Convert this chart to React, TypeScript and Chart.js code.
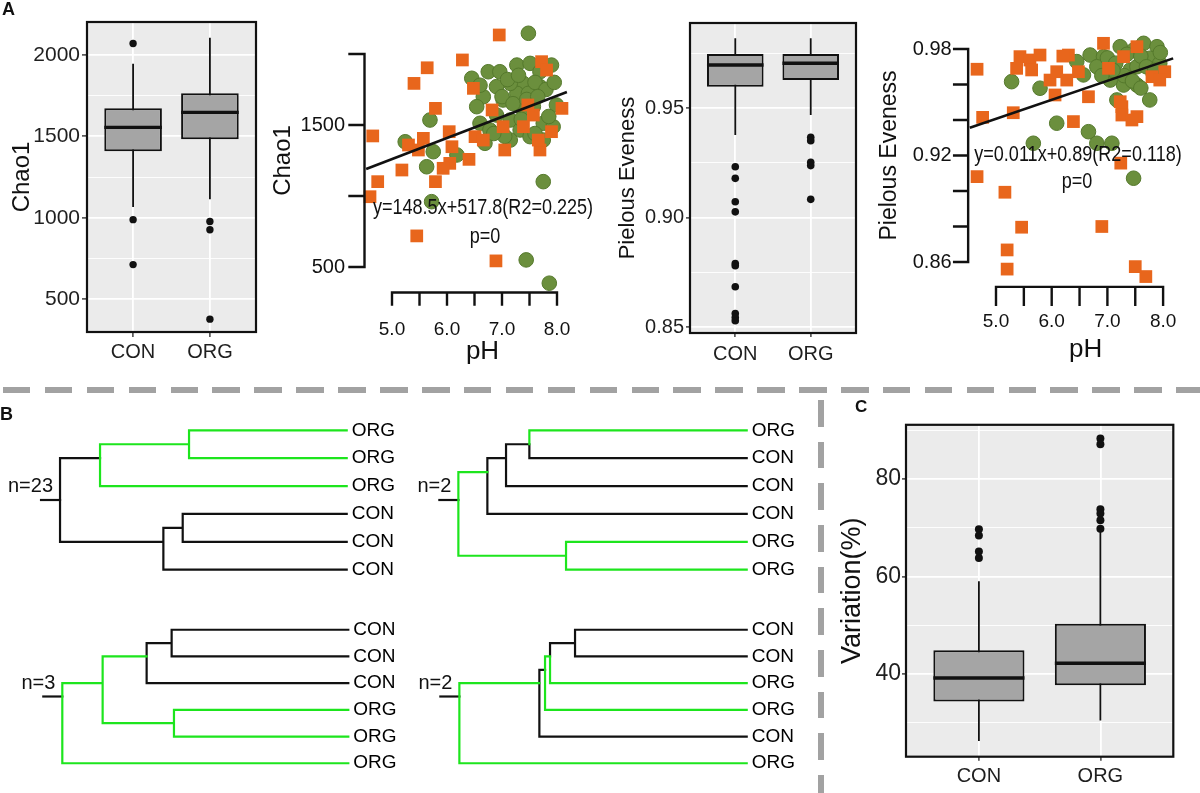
import React, { useEffect, useRef } from 'react';
import { Chart, registerables } from 'chart.js';

Chart.register(...registerables);

const FONT = '"Liberation Sans", Arial, Helvetica, sans-serif';
const INK = '#111111';
const GREEN_LINE = '#1de51d';
const ORANGE = '#e8661c';
const OLIVE = '#6b8f3d';
const OLIVE_EDGE = '#55792c';
const BOX_HALF = 0.375;
const STUB = 0.057;

// ================= DATA =================
const groups = ['CON', 'ORG'];

// Panel A – Chao1 boxplot
const chaoQ1 = [1408, 1482];
const chaoMedian = [1555, 1647];
const chaoQ3 = [1672, 1764];
const chaoWhiskerLow = [1065, 1113];
const chaoWhiskerHigh = [1945, 2106];
const chaoOutliersCON = [2070, 988, 712];
const chaoOutliersORG = [977, 926, 377];
const chaoBoxTicks = [500, 1000, 1500, 2000];
const chaoBoxTickLabels = ['500', '1000', '1500', '2000'];
const chaoBoxMinorTicks = [750, 1250, 1750];

// Panel A – Pielou boxplot
const pielouQ1 = [0.9597, 0.9628];
const pielouMedian = [0.9696, 0.9704];
const pielouQ3 = [0.9747, 0.9747];
const pielouWhiskerLow = [0.9377, 0.9468];
const pielouWhiskerHigh = [0.9818, 0.9818];
const pielouOutliersCON = [0.9232, 0.9179, 0.9072, 0.9026, 0.879, 0.878, 0.8684, 0.8562, 0.8544, 0.8529];
const pielouOutliersORG = [0.9366, 0.9351, 0.9252, 0.9237, 0.9083];
const pielouBoxTicks = [0.85, 0.9, 0.95];
const pielouBoxTickLabels = ['0.85', '0.90', '0.95'];
const pielouBoxMinorTicks = [0.875, 0.925, 0.975];

// Panel C – Variation boxplot
const variationQ1 = [34.35, 37.72];
const variationMedian = [39.2, 42.2];
const variationQ3 = [44.9, 50.3];
const variationWhiskerLow = [26.3, 30.5];
const variationWhiskerHigh = [59.0, 69.4];
const variationOutliersCON = [69.7, 68.4, 65.1, 63.8];
const variationOutliersORG = [88.3, 87.1, 73.8, 72.9, 71.5, 69.8];
const variationTicks = [40, 60, 80];
const variationTickLabels = ['40', '60', '80'];
const variationMinorTicks = [30, 50, 70, 90];

// Panel A – scatter vs pH
const pHTicks = [5, 5.5, 6, 6.5, 7, 7.5, 8];
const pHTickLabels = ['5.0', '', '6.0', '', '7.0', '', '8.0'];
const pHFitRange = [4.53, 8.18];

const chaoOrangePH = [6.95, 6.28, 5.64, 5.4, 5.79, 4.65, 4.74, 4.6, 5.18, 5.3, 5.48, 5.57, 5.79, 6.04, 6.09, 6.05, 5.93, 6.4, 6.48, 6.51, 6.66, 6.82, 7.02, 7.05, 7.57, 7.72, 7.81, 8.09, 7.9, 7.69, 7.66, 7.39, 5.45, 6.89, 7.47];
const chaoOrangeValue = [2134, 1958, 1903, 1793, 1617, 1423, 1101, 995, 1183, 1359, 1324, 1406, 1101, 1453, 1347, 1230, 1195, 1258, 1758, 1418, 1394, 1606, 1488, 1324, 1570, 1946, 1887, 1617, 1453, 1324, 1394, 1488, 719, 543, 1641];
const chaoGreenPH = [7.48, 6.45, 6.75, 6.96, 7.27, 7.51, 7.9, 7.39, 7.69, 6.66, 6.54, 7.02, 7.27, 7.99, 5.69, 5.24, 5.75, 5.63, 6.18, 6.69, 6.6, 7.15, 7.33, 7.51, 7.75, 7.15, 7.75, 5.72, 7.44, 7.86, 6.9, 7.57, 7.15, 7.75, 6.78, 7.39, 7.93, 6.9, 7.69, 7.48, 7.1, 7.3, 7.6, 7.8, 7.0, 7.2, 7.45, 7.65, 7.85, 7.35, 7.05, 6.85, 7.6, 6.6, 7.95];
const chaoGreenValue = [2146, 1829, 1875, 1875, 1922, 1934, 1922, 1793, 1770, 1699, 1629, 1676, 1723, 1641, 1535, 1382, 1312, 1206, 1289, 1371, 1512, 1535, 1465, 1418, 1394, 1394, 1101, 960, 550, 386, 1570, 1629, 1793, 1512, 1465, 1605, 1488, 1770, 1875, 1723, 1820, 1850, 1800, 1750, 1700, 1650, 1680, 1700, 1560, 1540, 1420, 1440, 1440, 1780, 1800];
const chaoFitCoef = [148.5, 517.8];
const chaoFitText = ['y=148.5x+517.8(R2=0.225)', 'p=0'];
const chaoScatterTicks = [500, 1000, 1500, 2000];
const chaoScatterTickLabels = ['500', '', '1500', ''];

const pielouOrangePH = [4.66, 4.76, 4.66, 5.16, 5.46, 5.2, 5.2, 5.31, 5.37, 5.43, 5.61, 5.79, 5.64, 5.97, 6.06, 6.09, 6.39, 6.3, 6.48, 6.66, 6.93, 7.02, 6.9, 7.24, 7.26, 7.26, 7.53, 7.5, 7.69, 7.8, 8.03, 7.29, 7.53, 7.94, 7.23, 7.44, 6.2, 6.27];
const pielouOrangeValue = [0.9686, 0.9415, 0.9081, 0.8993, 0.8796, 0.8668, 0.856, 0.9441, 0.9691, 0.9757, 0.9738, 0.9766, 0.9682, 0.9625, 0.9541, 0.9672, 0.9391, 0.9766, 0.9672, 0.9531, 0.9832, 0.9691, 0.88, 0.9157, 0.9475, 0.9428, 0.9419, 0.8574, 0.8518, 0.9644, 0.9672, 0.9757, 0.9813, 0.9625, 0.9503, 0.94, 0.976, 0.9625];
const pielouGreenPH = [5.28, 5.79, 6.09, 6.45, 5.67, 6.66, 6.81, 7.08, 7.47, 6.69, 6.93, 7.23, 7.47, 7.65, 7.89, 7.76, 7.94, 7.29, 7.53, 7.76, 6.81, 7.05, 7.41, 7.17, 7.53, 7.82, 6.57, 7.0, 7.15, 7.35, 7.6, 7.7, 7.85, 7.3, 7.45, 7.1, 7.95, 7.6, 6.9];
const pielouGreenValue = [0.9616, 0.9579, 0.9382, 0.9729, 0.9269, 0.9334, 0.9269, 0.9269, 0.9072, 0.9766, 0.9757, 0.9813, 0.9794, 0.9832, 0.9813, 0.9748, 0.9719, 0.9597, 0.9597, 0.9513, 0.97, 0.9625, 0.9682, 0.9513, 0.97, 0.9663, 0.9654, 0.975, 0.972, 0.977, 0.976, 0.97, 0.968, 0.965, 0.962, 0.968, 0.978, 0.958, 0.965];
const pielouFitCoef = [0.0107, 0.8872];
const pielouFitText = ['y=0.011x+0.89(R2=0.118)', 'p=0'];
const pielouScatterTicks = [0.86, 0.88, 0.9, 0.92, 0.94, 0.96, 0.98];
const pielouScatterTickLabels = ['0.86', '', '', '0.92', '', '', '0.98'];

// Panel B – dendrograms: [merge height, 1 if branch leading here is green, ...children]; leaves are labels
type TNode = string | any[];
const treeTopLeft: TNode = [0.86, 0, [0.74, 0, [0.473, 1, 'ORG', 'ORG'], 'ORG'], [0.55, 0, [0.492, 0, 'CON', 'CON'], 'CON']];
const treeTopRight: TNode = [0.865, 0, [0.778, 1, [0.722, 0, [0.652, 0, 'ORG', 'CON'], 'CON'], 'CON'], [0.542, 1, 'ORG', 'ORG']];
const treeBottomLeft: TNode = [0.858, 0, [0.737, 1, [0.605, 1, [0.53, 0, 'CON', 'CON'], 'CON'], [0.523, 1, 'ORG', 'ORG']], 'ORG'];
const treeBottomRight: TNode = [0.862, 0, [0.622, 1, [0.605, 0, [0.59, 1, [0.515, 0, 'CON', 'CON'], 'ORG'], 'ORG'], 'CON'], 'ORG'];
const treeCounts = [23, 2, 3, 2];

// ================= HELPERS =================
type Rect = { x: number; y: number; w: number; h: number };
type Area = { left: number; right: number; top: number; bottom: number };

function padFor(c: Rect, a: Area, ax: { left?: number; right?: number; bottom?: number } = {}) {
  return {
    left: a.left - c.x - (ax.left || 0),
    right: c.x + c.w - a.right - (ax.right || 0),
    top: a.top - c.y,
    bottom: c.y + c.h - a.bottom - (ax.bottom || 0),
  };
}

const panelPlugin = {
  id: 'ggPanel',
  beforeDraw(chart: any) {
    const { ctx, chartArea: a } = chart;
    ctx.save();
    ctx.fillStyle = '#ebebeb';
    ctx.fillRect(a.left, a.top, a.right - a.left, a.bottom - a.top);
    ctx.restore();
  },
  afterDraw(chart: any) {
    const { ctx, chartArea: a } = chart;
    ctx.save();
    ctx.strokeStyle = INK;
    ctx.lineWidth = 2.2;
    ctx.strokeRect(a.left, a.top, a.right - a.left, a.bottom - a.top);
    ctx.restore();
  },
};

interface BoxSpec {
  rect: Rect; area: Area;
  q1: number[]; med: number[]; q3: number[]; lo: number[]; hi: number[];
  outliers: number[][];
  yMin: number; yMax: number;
  ticks: number[]; tickLabels: string[]; minor: number[];
  title: string; titleSize: number; titleCenterX: number;
  yTickSize: number; xTickSize: number; tickLen: number; yLabelPad: number; xLabelPad: number;
  xAxisH: number; dotR: number;
}

function boxConfig(s: BoxSpec) {
  const majorSet = new Set(s.ticks);
  const labelOf = new Map(s.ticks.map((t, i) => [t, s.tickLabels[i]]));
  const yAxisW = s.area.left - s.rect.x;
  const padding = padFor(s.rect, s.area, { left: yAxisW, bottom: s.xAxisH });
  const titlePadTop = s.titleCenterX - s.rect.x - (s.titleSize * 1.2) / 2;
  const whiskers: any[] = [];
  const medians: any[] = [];
  const dots: any[] = [];
  groups.forEach((g, i) => {
    const x = i + 1;
    whiskers.push({ x, y: s.lo[i] }, { x, y: s.hi[i] }, { x, y: null });
    medians.push({ x: x - BOX_HALF, y: s.med[i] }, { x: x + BOX_HALF, y: s.med[i] }, { x, y: null });
    s.outliers[i].forEach((v) => dots.push({ x, y: v }));
  });
  const isMajor = (c: any) => !!(c && c.tick && majorSet.has(c.tick.value));
  return {
    type: 'bar',
    data: {
      datasets: [
        { type: 'scatter', data: dots, pointRadius: s.dotR, pointBackgroundColor: INK, pointBorderWidth: 0, order: 1 },
        { type: 'line', data: medians, borderColor: INK, borderWidth: 3.4, pointRadius: 0, order: 2 },
        {
          type: 'bar',
          data: groups.map((g, i) => ({ x: i + 1, y: [s.q1[i], s.q3[i]] })),
          backgroundColor: '#a5a5a5', borderColor: INK, borderWidth: 2, borderSkipped: false,
          barPercentage: 2 * BOX_HALF, categoryPercentage: 1, order: 3,
        },
        { type: 'line', data: whiskers, borderColor: INK, borderWidth: 1.8, pointRadius: 0, order: 4 },
      ],
    },
    options: {
      responsive: false,
      animation: false,
      layout: { padding, autoPadding: false },
      plugins: { legend: { display: false }, tooltip: { enabled: false } },
      scales: {
        x: {
          type: 'linear', min: 0.4, max: 2.6, offset: false,
          afterBuildTicks: (ax: any) => { ax.ticks = groups.map((g, i) => ({ value: i + 1 })); },
          afterFit: (ax: any) => { ax.height = s.xAxisH; },
          grid: { color: '#ffffff', lineWidth: 1.8, tickColor: '#333333', tickLength: s.tickLen, tickWidth: 1.4, offset: false },
          border: { display: false },
          ticks: {
            callback: (v: number) => groups[v - 1] ?? '',
            font: { size: s.xTickSize, family: FONT }, color: '#1f1f1f', padding: s.xLabelPad,
            maxRotation: 0, autoSkip: false,
          },
        },
        y: {
          type: 'linear', min: s.yMin, max: s.yMax,
          afterBuildTicks: (ax: any) => {
            ax.ticks = [...s.ticks, ...s.minor].sort((a, b) => a - b).map((v) => ({ value: v }));
          },
          afterFit: (ax: any) => { ax.width = yAxisW; },
          grid: {
            color: '#ffffff',
            lineWidth: (c: any) => (isMajor(c) ? 1.8 : 0.9),
            tickColor: (c: any) => (isMajor(c) ? '#333333' : 'rgba(0,0,0,0)'),
            tickWidth: 1.4,
            tickLength: s.tickLen,
          },
          border: { display: false },
          ticks: {
            callback: (v: number) => labelOf.get(v) ?? '',
            font: { size: s.yTickSize, family: FONT }, color: '#1f1f1f', padding: s.yLabelPad, autoSkip: false,
          },
          title: {
            display: true, text: s.title, color: INK,
            font: { size: s.titleSize, family: FONT }, padding: { top: titlePadTop, bottom: 0 },
          },
        },
      },
    },
    plugins: [panelPlugin],
  };
}

interface ScatterSpec {
  rect: Rect; area: Area;
  xMin: number; xMax: number; yMin: number; yMax: number;
  orangeX: number[]; orangeY: number[]; greenX: number[]; greenY: number[];
  fit: number[];
  yTicks: number[]; yLabels: string[]; yTickLen: number; yLabelGap: number;
  yTitle: string; yTitleSize: number; yTitleDx: number;
  xTickLen: number; xLabelDy: number; xTitleDy: number; xTitleDx: number;
  eq: string[]; eqAt: number[][];
}

function axesPlugin(s: ScatterSpec) {
  return {
    id: 'baseAxes',
    afterDatasetsDraw(chart: any) {
      const { ctx, chartArea: a, scales } = chart;
      const xs = scales.x;
      const ys = scales.y;
      const px = pHTicks.map((v) => xs.getPixelForValue(v));
      const py = s.yTicks.map((v) => ys.getPixelForValue(v));
      ctx.save();
      ctx.strokeStyle = INK;
      ctx.fillStyle = INK;
      ctx.lineWidth = 2.4;
      ctx.lineCap = 'square';
      ctx.beginPath();
      ctx.moveTo(px[0], a.bottom);
      ctx.lineTo(px[px.length - 1], a.bottom);
      px.forEach((p) => { ctx.moveTo(p, a.bottom); ctx.lineTo(p, a.bottom + s.xTickLen); });
      ctx.moveTo(a.left, py[0]);
      ctx.lineTo(a.left, py[py.length - 1]);
      py.forEach((p) => { ctx.moveTo(a.left, p); ctx.lineTo(a.left - s.yTickLen, p); });
      ctx.stroke();

      ctx.font = `19px ${FONT}`;
      ctx.textBaseline = 'middle';
      ctx.textAlign = 'center';
      px.forEach((p, i) => { if (pHTickLabels[i]) ctx.fillText(pHTickLabels[i], p, a.bottom + s.xLabelDy); });
      ctx.font = `20px ${FONT}`;
      ctx.textAlign = 'right';
      py.forEach((p, i) => { if (s.yLabels[i]) ctx.fillText(s.yLabels[i], a.left - s.yTickLen - s.yLabelGap, p); });

      ctx.textAlign = 'center';
      ctx.font = `26px ${FONT}`;
      ctx.fillText('pH', (px[0] + px[px.length - 1]) / 2 + s.xTitleDx, a.bottom + s.xTitleDy);
      ctx.save();
      ctx.translate(a.left - s.yTitleDx, (py[0] + py[py.length - 1]) / 2);
      ctx.rotate(-Math.PI / 2);
      ctx.font = `${s.yTitleSize}px ${FONT}`;
      ctx.fillText(s.yTitle, 0, 0);
      ctx.restore();

      ctx.font = `22px ${FONT}`;
      s.eq.forEach((t, i) => {
        ctx.save();
        ctx.translate(xs.getPixelForValue(s.eqAt[i][0]), ys.getPixelForValue(s.eqAt[i][1]));
        ctx.scale(0.82, 1);
        ctx.fillText(t, 0, 0);
        ctx.restore();
      });
      ctx.restore();
    },
  };
}

function scatterConfig(s: ScatterSpec) {
  const orange = s.orangeX.map((x, i) => ({ x, y: s.orangeY[i] }));
  const green = s.greenX.map((x, i) => ({ x, y: s.greenY[i] }));
  const fitLine = pHFitRange.map((x) => ({ x, y: s.fit[0] * x + s.fit[1] }));
  return {
    type: 'scatter',
    data: {
      datasets: [
        { type: 'line', data: fitLine, borderColor: INK, borderWidth: 2.6, pointRadius: 0, order: 1, clip: false },
        {
          data: orange, pointStyle: 'rect', pointRadius: 9, pointBackgroundColor: ORANGE,
          pointBorderColor: ORANGE, pointBorderWidth: 0, order: 2, clip: false,
        },
        {
          data: green, pointStyle: 'circle', pointRadius: 7.3, pointBackgroundColor: OLIVE,
          pointBorderColor: OLIVE_EDGE, pointBorderWidth: 1, order: 3, clip: false,
        },
      ],
    },
    options: {
      responsive: false,
      animation: false,
      layout: { padding: padFor(s.rect, s.area), autoPadding: false },
      plugins: { legend: { display: false }, tooltip: { enabled: false } },
      scales: {
        x: { type: 'linear', min: s.xMin, max: s.xMax, display: false },
        y: { type: 'linear', min: s.yMin, max: s.yMax, display: false },
      },
    },
    plugins: [axesPlugin(s)],
  };
}

function layoutTree(tree: TNode) {
  const leaves: string[] = [];
  const black: any[] = [];
  const green: any[] = [];
  const visit = (node: TNode): { h: number; y: number; sum: number; n: number } => {
    if (typeof node === 'string') {
      leaves.push(node);
      const idx = leaves.length;
      return { h: 0, y: idx, sum: idx, n: 1 };
    }
    const h = node[0] as number;
    const kids = node.slice(2) as TNode[];
    const res = kids.map(visit);
    const sum = res.reduce((acc, r) => acc + r.sum, 0);
    const n = res.reduce((acc, r) => acc + r.n, 0);
    const y = sum / n;
    res.forEach((r, i) => {
      const kid = kids[i];
      const isGreen = typeof kid === 'string' ? kid === 'ORG' : kid[1] === 1;
      (isGreen ? green : black).push({ x: h, y }, { x: h, y: r.y }, { x: r.h, y: r.y }, { x: r.h, y: null });
    });
    return { h, y, sum, n };
  };
  const root = visit(tree);
  return { leaves, black, green, root };
}

const LABEL_W = 60;
const TREE_X_MAX = 0.95;

function treeConfig(tree: TNode, count: number, rect: Rect, area: Area) {
  const L = layoutTree(tree);
  const lineStyle = { showLine: true, pointRadius: 0, borderWidth: 2.2, borderJoinStyle: 'miter', borderCapStyle: 'square', clip: false };
  const nPlugin = {
    id: 'nLabel',
    afterDraw(chart: any) {
      const { ctx, scales } = chart;
      ctx.save();
      ctx.font = `20px ${FONT}`;
      ctx.fillStyle = INK;
      ctx.textAlign = 'right';
      ctx.textBaseline = 'alphabetic';
      ctx.fillText(`n=${count}`, scales.x.getPixelForValue(L.root.h + STUB) + 12, scales.y.getPixelForValue(L.root.y) - 8);
      ctx.restore();
    },
  };
  return {
    type: 'scatter',
    data: {
      datasets: [
        { ...lineStyle, data: L.green, borderColor: GREEN_LINE, order: 1 },
        { ...lineStyle, data: L.black, borderColor: INK, order: 2 },
        { ...lineStyle, data: [{ x: L.root.h + STUB, y: L.root.y }, { x: L.root.h, y: L.root.y }], borderColor: INK, order: 3 },
      ],
    },
    options: {
      responsive: false,
      animation: false,
      layout: { padding: padFor(rect, area, { right: LABEL_W }), autoPadding: false },
      plugins: { legend: { display: false }, tooltip: { enabled: false } },
      scales: {
        x: { type: 'linear', min: 0, max: TREE_X_MAX, reverse: true, display: false },
        y: {
          type: 'linear', min: 0.5, max: L.leaves.length + 0.5, reverse: true, position: 'right',
          afterBuildTicks: (ax: any) => { ax.ticks = L.leaves.map((l, i) => ({ value: i + 1 })); },
          afterFit: (ax: any) => { ax.width = LABEL_W; },
          grid: { display: false, drawTicks: false },
          border: { display: false },
          ticks: {
            callback: (v: number) => L.leaves[v - 1] ?? '',
            color: '#000000', font: { size: 19, family: FONT }, padding: 5, autoSkip: false,
          },
        },
      },
    },
    plugins: [nPlugin],
  };
}

function treeArea(leafEnd: number, top: number, slot: number): Area {
  return { left: leafEnd - TREE_X_MAX * 333.33, right: leafEnd, top, bottom: top + 6 * slot };
}

// ================= LAYOUT =================
const A1_RECT: Rect = { x: 0, y: 0, w: 262, h: 380 };
const A2_RECT: Rect = { x: 262, y: 0, w: 345, h: 380 };
const A3_RECT: Rect = { x: 590, y: 0, w: 272, h: 380 };
const A4_RECT: Rect = { x: 862, y: 0, w: 338, h: 380 };
const C_RECT: Rect = { x: 826, y: 410, w: 374, h: 383 };
const T1_RECT: Rect = { x: 0, y: 400, w: 410, h: 200 };
const T2_RECT: Rect = { x: 400, y: 400, w: 410, h: 200 };
const T3_RECT: Rect = { x: 0, y: 600, w: 410, h: 193 };
const T4_RECT: Rect = { x: 400, y: 600, w: 410, h: 193 };

const makers: { rect: Rect; make: () => any }[] = [
  {
    rect: A1_RECT,
    make: () => boxConfig({
      rect: A1_RECT, area: { left: 87, right: 256, top: 22, bottom: 332 },
      q1: chaoQ1, med: chaoMedian, q3: chaoQ3, lo: chaoWhiskerLow, hi: chaoWhiskerHigh,
      outliers: [chaoOutliersCON, chaoOutliersORG], yMin: 298, yMax: 2202,
      ticks: chaoBoxTicks, tickLabels: chaoBoxTickLabels, minor: chaoBoxMinorTicks,
      title: 'Chao1', titleSize: 24, titleCenterX: 22.5,
      yTickSize: 21, xTickSize: 20, tickLen: 5, yLabelPad: 2, xLabelPad: 3.5, xAxisH: 40, dotR: 3.7,
    }),
  },
  {
    rect: A3_RECT,
    make: () => boxConfig({
      rect: A3_RECT, area: { left: 690, right: 856, top: 23, bottom: 333 },
      q1: pielouQ1, med: pielouMedian, q3: pielouQ3, lo: pielouWhiskerLow, hi: pielouWhiskerHigh,
      outliers: [pielouOutliersCON, pielouOutliersORG], yMin: 0.8473, yMax: 0.9888,
      ticks: pielouBoxTicks, tickLabels: pielouBoxTickLabels, minor: pielouBoxMinorTicks,
      title: 'Pielous Eveness', titleSize: 22, titleCenterX: 628.3,
      yTickSize: 20, xTickSize: 20, tickLen: 4, yLabelPad: 2, xLabelPad: 5, xAxisH: 40, dotR: 3.8,
    }),
  },
  {
    rect: A2_RECT,
    make: () => scatterConfig({
      rect: A2_RECT, area: { left: 364.5, right: 573.5, top: 18.5, bottom: 292.56 },
      xMin: 4.5, xMax: 8.3, yMin: 320, yMax: 2250,
      orangeX: chaoOrangePH, orangeY: chaoOrangeValue, greenX: chaoGreenPH, greenY: chaoGreenValue,
      fit: chaoFitCoef,
      yTicks: chaoScatterTicks, yLabels: chaoScatterTickLabels, yTickLen: 15, yLabelGap: 4.5,
      yTitle: 'Chao1', yTitleSize: 24, yTitleDx: 81.5,
      xTickLen: 12, xLabelDy: 37.4, xTitleDy: 59.4, xTitleDx: 8,
      eq: chaoFitText, eqAt: [[6.655, 915], [6.69, 711]],
    }),
  },
  {
    rect: A4_RECT,
    make: () => scatterConfig({
      rect: A4_RECT, area: { left: 968.15, right: 1182.6, top: 27.7, bottom: 286.85 },
      xMin: 4.5, xMax: 8.35, yMin: 0.846, yMax: 0.992,
      orangeX: pielouOrangePH, orangeY: pielouOrangeValue, greenX: pielouGreenPH, greenY: pielouGreenValue,
      fit: pielouFitCoef,
      yTicks: pielouScatterTicks, yLabels: pielouScatterTickLabels, yTickLen: 14, yLabelGap: 2.5,
      yTitle: 'Pielous Eveness', yTitleSize: 23, yTitleDx: 78,
      xTickLen: 18, xLabelDy: 34.8, xTitleDy: 63, xTitleDx: 6,
      eq: pielouFitText, eqAt: [[6.472, 0.9203], [6.454, 0.905]],
    }),
  },
  {
    rect: C_RECT,
    make: () => boxConfig({
      rect: C_RECT, area: { left: 906, right: 1173.3, top: 419.3, bottom: 756.7 },
      q1: variationQ1, med: variationMedian, q3: variationQ3, lo: variationWhiskerLow, hi: variationWhiskerHigh,
      outliers: [variationOutliersCON, variationOutliersORG], yMin: 23.06, yMax: 91.09,
      ticks: variationTicks, tickLabels: variationTickLabels, minor: variationMinorTicks,
      title: 'Variation(%)', titleSize: 27, titleCenterX: 853,
      yTickSize: 23, xTickSize: 20, tickLen: 4, yLabelPad: 1, xLabelPad: 4, xAxisH: 36, dotR: 4,
    }),
  },
  { rect: T1_RECT, make: () => treeConfig(treeTopLeft, treeCounts[0], T1_RECT, treeArea(346.7, 406.5, 31.7)) },
  { rect: T2_RECT, make: () => treeConfig(treeTopRight, treeCounts[1], T2_RECT, treeArea(746.7, 410, 31.4)) },
  { rect: T3_RECT, make: () => treeConfig(treeBottomLeft, treeCounts[2], T3_RECT, treeArea(348.3, 602.5, 31.55)) },
  { rect: T4_RECT, make: () => treeConfig(treeBottomRight, treeCounts[3], T4_RECT, treeArea(746.7, 601.6, 31.4)) },
];

function ChartCanvas({ rect, make }: { rect: Rect; make: () => any }) {
  const ref = useRef<HTMLCanvasElement>(null);
  useEffect(() => {
    if (!ref.current) return;
    const chart = new Chart(ref.current, make());
    return () => chart.destroy();
  }, []);
  return (
    <canvas
      ref={ref}
      width={rect.w}
      height={rect.h}
      style={{ position: 'absolute', left: rect.x, top: rect.y, width: rect.w, height: rect.h }}
    />
  );
}

const letterStyle = (left: number, top: number, size: number): React.CSSProperties => ({
  position: 'absolute', left, top, fontFamily: FONT, fontWeight: 'bold', fontSize: size, lineHeight: 1, color: INK,
});

export default function App() {
  return (
    <div style={{ position: 'absolute', left: 0, top: 0, width: 1200, height: 793, background: '#ffffff', overflow: 'hidden' }}>
      {makers.map((m, i) => (
        <ChartCanvas key={i} rect={m.rect} make={m.make} />
      ))}
      <div
        style={{
          position: 'absolute', left: 3, top: 387, width: 1197, height: 6,
          background: 'repeating-linear-gradient(to right, #a2a2a2 0px, #a2a2a2 27.5px, rgba(0,0,0,0) 27.5px, rgba(0,0,0,0) 41.9px)',
        }}
      />
      <div
        style={{
          position: 'absolute', left: 818, top: 400, width: 6, height: 393,
          background: 'repeating-linear-gradient(to bottom, #a2a2a2 0px, #a2a2a2 26.7px, rgba(0,0,0,0) 26.7px, rgba(0,0,0,0) 41.67px)',
        }}
      />
      <div style={letterStyle(2, 0, 18)}>A</div>
      <div style={letterStyle(0, 405, 18)}>B</div>
      <div style={letterStyle(855, 398, 17)}>C</div>
    </div>
  );
}
